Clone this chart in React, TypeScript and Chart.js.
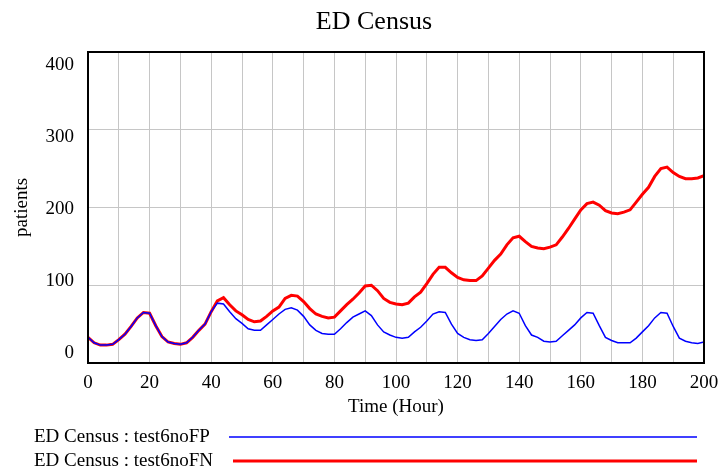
import React, { useEffect, useRef } from "react";
import { Chart, registerables } from "chart.js";

Chart.register(...registerables);

const chartTitle = "ED Census";
const xAxisTitle = "Time (Hour)";
const yAxisTitle = "patients";
const seriesNames = ["ED Census : test6noFP", "ED Census : test6noFN"];
const seriesColors = ["#0000ff", "#ff0000"];
const seriesWidths = [1.5, 3];

const xTickValues = [0, 20, 40, 60, 80, 100, 120, 140, 160, 180, 200];
const yTickValues = [400, 300, 200, 100, 0];

const hours = [
  0, 2, 4, 6, 8, 10, 12, 14, 16, 18,
  20, 22, 24, 26, 28, 30, 32, 34, 36, 38,
  40, 42, 44, 46, 48, 50, 52, 54, 56, 58,
  60, 62, 64, 66, 68, 70, 72, 74, 76, 78,
  80, 82, 84, 86, 88, 90, 92, 94, 96, 98,
  100, 102, 104, 106, 108, 110, 112, 114, 116, 118,
  120, 122, 124, 126, 128, 130, 132, 134, 136, 138,
  140, 142, 144, 146, 148, 150, 152, 154, 156, 158,
  160, 162, 164, 166, 168, 170, 172, 174, 176, 178,
  180, 182, 184, 186, 188, 190, 192, 194, 196, 198,
  200,
];

const test6noFP = [
  33, 26, 23, 23, 24, 30, 37, 47, 58, 65,
  64, 48, 34, 27, 25, 24, 26, 33, 42, 50,
  66, 77, 76, 66, 57, 51, 44, 42, 42, 49,
  56, 63, 69, 71, 68, 60, 49, 42, 38, 37,
  37, 44, 52, 59, 63, 67, 61, 49, 40, 36,
  33, 32, 33, 40, 46, 54, 63, 66, 65, 50,
  38, 33, 30, 29, 30, 38, 47, 56, 63, 67,
  64, 48, 36, 33, 28, 27, 28, 35, 42, 49,
  58, 65, 64, 48, 33, 29, 26, 26, 26, 32,
  40, 48, 58, 65, 64, 47, 32, 28, 26, 25,
  27,
];

const test6noFN = [
  33, 26, 23, 23, 24, 30, 37, 47, 58, 65,
  64, 48, 34, 27, 25, 24, 26, 33, 42, 50,
  66, 80, 84, 75, 67, 62, 56, 53, 54, 60,
  67, 72, 83, 87, 86, 79, 70, 63, 60, 58,
  59, 67, 75, 82, 90, 99, 100, 93, 83, 78,
  76, 75, 77, 85, 91, 102, 114, 123, 123, 116,
  110, 107, 106, 106, 112, 122, 132, 140, 152, 161,
  163, 156, 150, 148, 147, 149, 152, 162, 173, 185,
  197, 205, 207, 203, 196, 193, 192, 194, 197, 207,
  217, 226, 240, 250, 252, 245, 240, 237, 237, 238,
  241,
];

const FONT_FAMILY = "'Liberation Serif', 'Times New Roman', serif";

const vensimDecor = {
  id: "vensimDecor",
  afterDraw(chart: any) {
    const { ctx, chartArea } = chart;
    const xs = chart.scales.x;
    const ys = chart.scales.y;
    const { left, right, top, bottom } = chartArea;
    ctx.save();

    // plot frame
    ctx.strokeStyle = "#000";
    ctx.lineWidth = 2;
    ctx.strokeRect(left, top, right - left, bottom - top);

    ctx.fillStyle = "#000";

    // title
    ctx.font = `26px ${FONT_FAMILY}`;
    ctx.textAlign = "center";
    ctx.textBaseline = "middle";
    ctx.fillText(chartTitle, 374, 22);

    // x tick labels
    ctx.font = `19px ${FONT_FAMILY}`;
    ctx.textAlign = "center";
    ctx.textBaseline = "middle";
    for (const v of xTickValues) {
      ctx.fillText(String(v), xs.getPixelForValue(v), bottom + 20);
    }

    // y tick labels (placed inside the axis span, Vensim style)
    ctx.textAlign = "right";
    const span = bottom - top;
    for (const v of yTickValues) {
      const p = ys.getPixelForValue(v);
      const ly = top + 13 + (p - top) * ((span - 23) / span);
      ctx.fillText(String(v), left - 14, ly);
    }

    // axis titles
    ctx.textAlign = "center";
    ctx.fillText(xAxisTitle, (left + right) / 2, bottom + 44);
    ctx.save();
    ctx.translate(22, (top + bottom) / 2);
    ctx.rotate(-Math.PI / 2);
    ctx.fillText(yAxisTitle, 0, 0);
    ctx.restore();

    // legend
    const legendY = [437, 461];
    const lineStart = [229, 233];
    ctx.textAlign = "left";
    for (let i = 0; i < seriesNames.length; i++) {
      ctx.fillStyle = "#000";
      ctx.fillText(seriesNames[i], 34, legendY[i]);
      ctx.strokeStyle = seriesColors[i];
      ctx.lineWidth = seriesWidths[i];
      ctx.beginPath();
      ctx.moveTo(lineStart[i], legendY[i]);
      ctx.lineTo(697, legendY[i]);
      ctx.stroke();
    }
    ctx.restore();
  },
};

export default function App() {
  const canvasRef = useRef<HTMLCanvasElement | null>(null);

  useEffect(() => {
    if (!canvasRef.current) return;
    const chart = new Chart(canvasRef.current, {
      type: "line",
      data: {
        datasets: [
          {
            label: seriesNames[0],
            data: hours.map((h, i) => ({ x: h, y: test6noFP[i] })),
            borderColor: seriesColors[0],
            borderWidth: seriesWidths[0],
            pointRadius: 0,
            tension: 0,
            fill: false,
          },
          {
            label: seriesNames[1],
            data: hours.map((h, i) => ({ x: h, y: test6noFN[i] })),
            borderColor: seriesColors[1],
            borderWidth: seriesWidths[1],
            pointRadius: 0,
            tension: 0,
            fill: false,
          },
        ],
      },
      options: {
        responsive: false,
        animation: false,
        devicePixelRatio: 1,
        layout: { padding: { left: 88, right: 17, top: 52, bottom: 109 } },
        plugins: {
          legend: { display: false },
          title: { display: false },
          tooltip: { enabled: false },
        },
        scales: {
          x: {
            type: "linear",
            min: 0,
            max: 200,
            ticks: { display: false, stepSize: 10 },
            grid: { color: "#c6c6c6", lineWidth: 1, drawTicks: false },
            border: { display: false },
          },
          y: {
            type: "linear",
            min: 0,
            max: 400,
            ticks: { display: false, stepSize: 100 },
            grid: { color: "#c6c6c6", lineWidth: 1, drawTicks: false },
            border: { display: false },
          },
        },
      },
      plugins: [vensimDecor],
    });
    return () => chart.destroy();
  }, []);

  return (
    <div style={{ position: "absolute", left: 0, top: 0, width: 721, height: 472, background: "#fff" }}>
      <canvas ref={canvasRef} width={721} height={472} style={{ display: "block" }} />
    </div>
  );
}
